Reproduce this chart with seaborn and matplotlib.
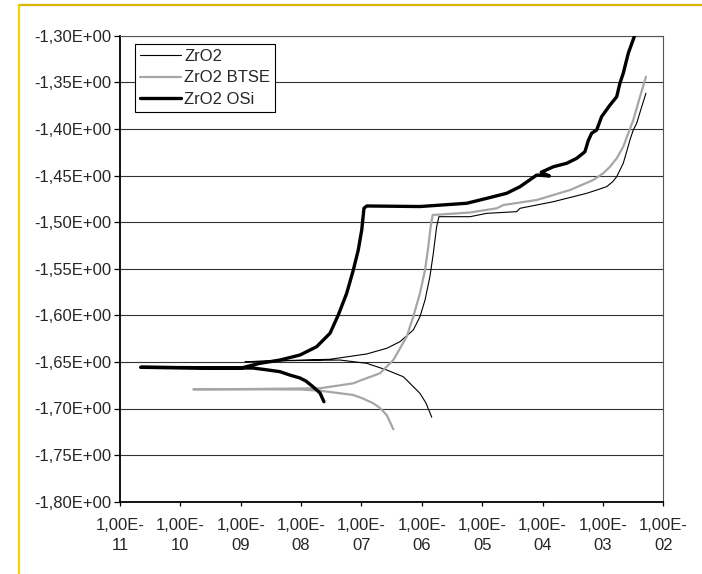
import numpy as np
import pandas as pd
import matplotlib
matplotlib.use("Agg")
import matplotlib.pyplot as plt
import seaborn as sns
from matplotlib.ticker import FixedLocator, FuncFormatter, NullLocator
from matplotlib.lines import Line2D

# Potentiodynamic curves (current in A, potential in V)
# each curve: cathodic end -> spike at Ecorr -> anodic end
zro2_i = [1.46e-6, 1.17e-6, 9.3e-7, 5.6e-7, 4.93e-7, 2.62e-7, 1.22e-7, 4.4e-8,
          5.8e-9, 1.18e-9,
          3.01e-8, 1.22e-7, 2.62e-7, 4.35e-7, 7.21e-7, 9.31e-7, 1.13e-6,
          1.36e-6, 1.55e-6, 1.76e-6, 1.92e-6,
          6.28e-6, 1.19e-5, 3.72e-5, 4.23e-5, 1.51e-4, 5.38e-4, 7.87e-4,
          1.15e-3, 1.45e-3, 1.69e-3, 1.91e-3, 2.17e-3, 2.47e-3, 2.80e-3,
          3.18e-3, 3.62e-3, 4.39e-3, 5.16e-3]
zro2_e = [-1.7094, -1.6941, -1.6837, -1.6694, -1.6659, -1.6587, -1.6515, -1.6480,
          -1.6487, -1.6498,
          -1.6472, -1.6415, -1.6354, -1.6283, -1.6158, -1.6015, -1.5836,
          -1.5586, -1.5335, -1.5049, -1.4942,
          -1.4942, -1.4906, -1.4888, -1.4852, -1.4781, -1.4691, -1.4656,
          -1.4620, -1.4567, -1.4513, -1.4442, -1.4369, -1.4245, -1.4119,
          -1.4012, -1.3940, -1.3762, -1.3618]

btse_i = [3.37e-7, 2.97e-7, 2.62e-7, 2.03e-7, 1.57e-7, 1.06e-7, 7.3e-8, 2.06e-8,
          9.6e-9, 1.42e-9, 1.64e-10,
          1.42e-9, 2.06e-8, 7.3e-8, 1.01e-7, 2.03e-7, 3.37e-7, 5.61e-7,
          7.21e-7, 9.31e-7, 1.13e-6, 1.28e-6, 1.40e-6, 1.51e-6,
          6.28e-6, 1.74e-5, 2.23e-5, 7.98e-5, 2.84e-4, 6.92e-4, 1.01e-3,
          1.31e-3, 1.69e-3, 2.17e-3, 2.63e-3, 3.18e-3, 3.62e-3, 4.11e-3,
          5.16e-3]
btse_e = [-1.7223, -1.7145, -1.7070, -1.6995, -1.6944, -1.6893, -1.6855, -1.6809,
          -1.6796, -1.6794, -1.6794,
          -1.6791, -1.6783, -1.6730, -1.6694, -1.6622, -1.6480, -1.6230,
          -1.6015, -1.5764, -1.5514, -1.5264, -1.5049, -1.4924,
          -1.4897, -1.4852, -1.4817, -1.4763, -1.4656, -1.4548, -1.4476,
          -1.4406, -1.4316, -1.4191, -1.4047, -1.3905, -1.3779, -1.3655,
          -1.3440]

osi_i = [2.39e-8, 2.06e-8, 1.57e-8, 1.2e-8, 9.6e-9, 6.5e-9, 4.47e-9, 2.5e-9,
         1.60e-9, 2.2e-11,
         9.7e-10, 2.08e-9, 4.47e-9, 9.6e-9, 1.81e-8, 3.01e-8, 4.13e-8,
         5.69e-8, 7.33e-8, 8.85e-8, 1.01e-7, 1.10e-7, 1.22e-7,
         9.3e-7, 5.53e-6, 1.19e-5, 2.54e-5, 4.23e-5, 8.0e-5, 1.3e-4, 9.5e-5,
         1.51e-4, 2.51e-4, 3.67e-4, 5.03e-4, 5.71e-4, 6.5e-4, 7.87e-4,
         9.5e-4, 1.31e-3, 1.69e-3, 1.91e-3, 2.17e-3, 2.63e-3, 3.30e-3]
osi_e = [-1.6927, -1.6834, -1.6766, -1.6705, -1.6673, -1.6641, -1.6605, -1.6582,
         -1.6566, -1.6558,
         -1.6569, -1.6515, -1.6480, -1.6426, -1.6337, -1.6193, -1.5997,
         -1.5764, -1.5514, -1.5299, -1.5085, -1.4852, -1.4827,
         -1.4833, -1.4798, -1.4745, -1.4691, -1.4620, -1.4495, -1.4505, -1.4465,
         -1.4406, -1.4369, -1.4316, -1.4245, -1.4126, -1.4047, -1.4012,
         -1.3869, -1.3744, -1.3655, -1.3511, -1.3403, -1.3189, -1.3011]

labels = ["ZrO2", "ZrO2 BTSE", "ZrO2 OSi"]
colors = ["black", "#a6a6a6", "black"]
widths = [0.8, 1.6, 2.4]

x_ticks = [1e-11, 1e-10, 1e-9, 1e-8, 1e-7, 1e-6, 1e-5, 1e-4, 1e-3, 1e-2]
y_ticks = [-1.80, -1.75, -1.70, -1.65, -1.60, -1.55, -1.50, -1.45, -1.40, -1.35, -1.30]

sns.set_style("white")
plt.rcParams["font.family"] = ["Liberation Sans", "DejaVu Sans"]
plt.rcParams["font.size"] = 12

fig = plt.figure(figsize=(7.02, 5.74), dpi=100)
ax = fig.add_axes([120 / 702, (574 - 501.7) / 574, (663.3 - 120) / 702, (501.7 - 35.7) / 574])

# yellow frame of the original chart area (top and left only)
fig.add_artist(Line2D([19 / 702, 1.0], [1 - 4.7 / 574, 1 - 4.7 / 574],
                      transform=fig.transFigure, color="#d6b400", lw=1.6))
fig.add_artist(Line2D([19.3 / 702, 19.3 / 702], [0, 1 - 4.7 / 574],
                      transform=fig.transFigure, color="#f0d400", lw=1.6))

series = [(zro2_i, zro2_e), (btse_i, btse_e), (osi_i, osi_e)]
for (cur, pot), lab, col, lw in zip(series, labels, colors, widths):
    df = pd.DataFrame({"current": cur, "potential": pot})
    sns.lineplot(data=df, x="current", y="potential", sort=False, estimator=None,
                 color=col, lw=lw, label=lab, ax=ax, zorder=3)

ax.set_xscale("log")
ax.set_xlim(1e-11, 1e-2)
ax.set_ylim(-1.80, -1.30)
ax.xaxis.set_major_locator(FixedLocator(x_ticks))
ax.xaxis.set_minor_locator(NullLocator())
ax.yaxis.set_major_locator(FixedLocator(y_ticks))


def fmt_x(v, pos):
    s = f"{v:.2E}".replace(".", ",")
    mant, exp = s.split("E")
    return f"{mant}E{exp[0]}\n{exp[1:]}"


def fmt_y(v, pos):
    return f"{v:.2E}".replace(".", ",")


ax.xaxis.set_major_formatter(FuncFormatter(fmt_x))
ax.yaxis.set_major_formatter(FuncFormatter(fmt_y))
ax.set_xlabel("")
ax.set_ylabel("")

ax.grid(axis="y", color="#333333", lw=0.8)
ax.grid(axis="x", visible=False)
ax.set_axisbelow(True)

for side in ["left", "bottom"]:
    ax.spines[side].set_color("black")
    ax.spines[side].set_linewidth(1.3)
for side in ["top", "right"]:
    ax.spines[side].set_color("#555555")
    ax.spines[side].set_linewidth(0.8)

ax.tick_params(axis="y", direction="out", length=4, width=0.9, color="black",
               pad=2.5, left=True, labelsize=12)
ax.tick_params(axis="x", direction="out", length=3, width=0.9, color="black",
               pad=9, bottom=True, labelsize=12)
for t in ax.get_xticklabels():
    t.set_linespacing(1.35)

leg = ax.legend(loc="upper left", bbox_to_anchor=(0.0276, 0.982), borderaxespad=0,
                frameon=True, fancybox=False, framealpha=1, edgecolor="black",
                handlelength=2.45, handletextpad=0.2, labelspacing=0.38,
                borderpad=0.3, fontsize=12)
leg.get_frame().set_linewidth(0.8)

fig.savefig("out.png", dpi=100)
